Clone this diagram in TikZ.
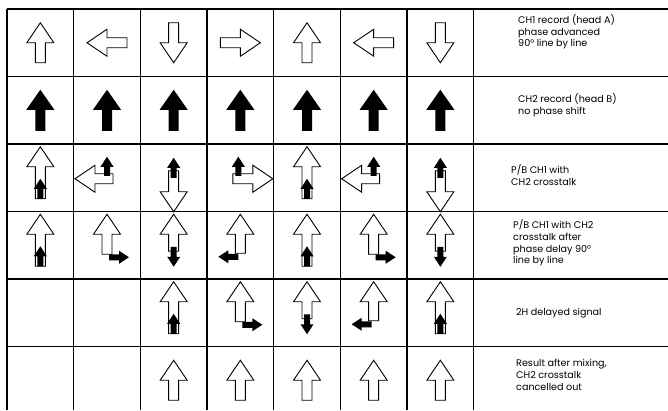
\documentclass[tikz,border=0pt]{standalone}
\usepackage{fontspec}
\setmainfont{Poppins}
\usetikzlibrary{positioning}

%% outline arrow: cell, offset x, offset y, angle, length
\newcommand{\hollowarrow}[5]{%
  \begin{scope}[shift={(#1)}, shift={(#2,#3)}, rotate=#4]
    \draw[hollow] (0,-5) -- ({#5-20},-5) -- ({#5-20},-13.5) -- (#5,0)
      -- ({#5-20},13.5) -- ({#5-20},5) -- (0,5) -- cycle;
  \end{scope}}
%% small solid arrow (crosstalk): cell, offset x, offset y, angle, length
\newcommand{\inkarrow}[5]{%
  \begin{scope}[shift={(#1)}, shift={(#2,#3)}, rotate=#4]
    \fill[ink] (0,-3) -- ({#5-10},-3) -- ({#5-10},-6.5) -- (#5,0)
      -- ({#5-10},6.5) -- ({#5-10},3) -- (0,3) -- cycle;
  \end{scope}}
%% large solid arrow (CH2 record)
\newcommand{\solidarrow}[1]{%
  \begin{scope}[shift={(#1)}, shift={(0,20.5)}, rotate=90]
    \fill[ink] (0,-5) -- (21,-5) -- (21,-14) -- (41,0)
      -- (21,14) -- (21,5) -- (0,5) -- cycle;
  \end{scope}}

\begin{document}
\begin{tikzpicture}[x=1pt, y=-1pt,
    grid/.style={line width=1.2pt, black},
    hollow/.style={draw=black, fill=white, line width=0.9pt, line join=miter},
    ink/.style={fill=black},
    note/.style={anchor=west, align=left, inner sep=0pt,
                 font=\fontsize{9.6}{11.7}\selectfont}
]
\useasboundingbox (0,0) rectangle (668,410);

%% cell centres
\foreach \i in {1,...,7}
  \foreach \j in {1,...,6}
    \coordinate (c\i\j) at ({7+66.67*(\i-0.5)},{9+67.5*(\j-0.5)});

%% grid
\foreach \i in {0,...,7}
  \draw[grid] ({7+66.67*\i},9) -- ({7+66.67*\i},410);
\foreach \j in {0,...,5}
  \draw[grid] (7,{9+67.5*\j}) -- (668,{9+67.5*\j});

%% row 1: CH1 record, phase advanced
\foreach \i/\a/\ox/\oy in {1/90/0/20, 2/180/20/0, 3/270/0/-20, 4/0/-20/0,
                          5/90/0/20, 6/180/20/0, 7/270/0/-20}
  \hollowarrow{c\i1}{\ox}{\oy}{\a}{40};

%% row 2: CH2 record
\foreach \i in {1,...,7}
  \solidarrow{c\i2};

%% row 3: playback CH1 with CH2 crosstalk
\foreach \i/\a/\hx/\hy/\hl/\bx/\by/\bl in {1/90/0/21/52/0/21/20, 2/180/6/1/38/0/-2/19,
    3/270/0/-7/41/0/0/20, 4/0/-7.5/1/40/-2/-2/19, 5/90/0/21/52/0/21/20,
    6/180/6/1/38/0/-2/19, 7/270/0/-7/41/0/0/20}
{
  \hollowarrow{c\i3}{\hx}{\hy}{\a}{\hl}
  \inkarrow{c\i3}{\bx}{\by}{90}{\bl}
}

%% row 4: after 90 degree phase delay
\foreach \i/\ba/\hy/\hl/\bx/\by in {1/90/21/52/0/21, 2/0/9/40/2/12, 3/270/6/37/0/1.5,
    4/180/8/39/-2/11.5, 5/90/21/52/0/21, 6/0/9/40/2/12, 7/270/6/37/0/1.5}
{
  \hollowarrow{c\i4}{0}{\hy}{90}{\hl}
  \inkarrow{c\i4}{\bx}{\by}{\ba}{20}
}

%% row 5: 2H delayed
\foreach \i/\ba/\hy/\hl/\bx/\by in {3/90/21/52/0/21, 4/0/9/40/2/12, 5/270/6/37/0/1.5,
    6/180/8/39/-2/11.5, 7/90/21/52/0/21}
{
  \hollowarrow{c\i5}{0}{\hy}{90}{\hl}
  \inkarrow{c\i5}{\bx}{\by}{\ba}{20}
}

%% row 6: result after mixing
\foreach \i in {3,...,7}
  \hollowarrow{c\i6}{0}{20}{90}{40};

%% captions
\node[note] (ch1rec) at (518,32) {CH1 record (head A)\\phase advanced\\90° line by line};
\node[note] (ch2rec) at (518,105) {CH2 record (head B)\\no phase shift};
\node[note] (pbcross) at (511,175) {P/B CH1 with\\CH2 crosstalk};
\node[note] (pbdelay) at (513,243) {P/B CH1 with CH2\\crosstalk after\\phase delay 90°\\line by line};
\node[note] (delayed) at (516,313) {2H delayed signal};
\node[note] (mixed) at (516,375) {Result after mixing,\\CH2 crosstalk\\cancelled out};
\end{tikzpicture}
\end{document}
